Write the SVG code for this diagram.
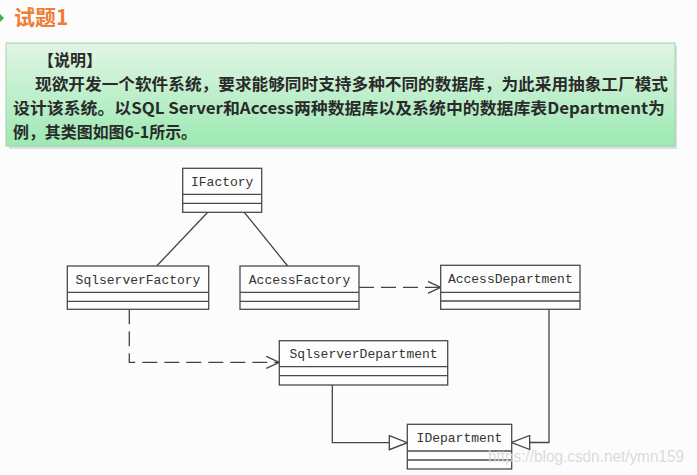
<svg xmlns="http://www.w3.org/2000/svg" width="697" height="475" viewBox="0 0 697 475">
<defs>
<style>
.box{fill:#fdfdfd;stroke:#4a4a4a;stroke-width:1.3}
.sep{stroke:#4a4a4a;stroke-width:1.3}
.lbl{font-family:"Liberation Mono","DejaVu Sans Mono",monospace;font-size:13px;fill:#333}
.con{fill:none;stroke:#444;stroke-width:1.3}
.dash{stroke-dasharray:15 7}
.hd{font-family:"Noto Sans CJK SC","Noto Sans",sans-serif;font-weight:bold;font-size:16px;fill:#2a2a2a}
</style>
<linearGradient id="g" x1="0" y1="0" x2="0" y2="1">
<stop offset="0" stop-color="#e2f5e5"/>
<stop offset="1" stop-color="#9ce9b3"/>
</linearGradient>
<marker id="open" viewBox="0 0 14 14" refX="13" refY="7" markerWidth="14" markerHeight="14" markerUnits="userSpaceOnUse" orient="auto">
<path d="M0,1 L13,7 L0,13" fill="none" stroke="#444" stroke-width="1.3"/>
</marker>
<marker id="tri" viewBox="0 0 20 16" refX="19" refY="8" markerWidth="20" markerHeight="16" markerUnits="userSpaceOnUse" orient="auto">
<path d="M1,1 L19,8 L1,15 Z" fill="#fdfdfd" stroke="#444" stroke-width="1.3"/>
</marker>
</defs>
<rect width="697" height="475" fill="#fdfcfd"/>
<path d="M0,14 L4,18 L0,22 Z" fill="#3cae5a"/>
<text x="14" y="25" font-family="Noto Sans CJK SC, sans-serif" font-weight="bold" font-size="21" fill="#ef7d34">试题1</text>
<rect x="9" y="46" width="668" height="103" fill="#9aa" opacity="0.35"/>
<rect x="6" y="43" width="669" height="103" fill="url(#g)" stroke="#9fd4ab" stroke-width="1"/>
<text class="hd" x="38" y="66">【说明】</text>
<text class="hd" x="35" y="90" textLength="633" lengthAdjust="spacingAndGlyphs">现欲开发一个软件系统，要求能够同时支持多种不同的数据库，为此采用抽象工厂模式</text>
<text class="hd" x="13" y="114" textLength="652" lengthAdjust="spacingAndGlyphs">设计该系统。以SQL Server和Access两种数据库以及系统中的数据库表Department为</text>
<text class="hd" x="13" y="138" textLength="184" lengthAdjust="spacingAndGlyphs">例，其类图如图6-1所示。</text>

<g id="connectors">
<path class="con" d="M207.7,212.3 L156.7,266"/>
<path class="con" d="M244.3,212.3 L287.7,266"/>
<path class="con dash" d="M359,287.3 L440.7,287.3" marker-end="url(#open)"/>
<path class="con dash" d="M129.3,309.3 L129.3,362.3 L279.3,362.3" marker-end="url(#open)"/>
<path class="con" d="M332.3,385 L332.3,442.7 L407.3,442.7" marker-end="url(#tri)"/>
<path class="con" d="M549,309.3 L549,442.5 L511.7,442.5" marker-end="url(#tri)"/>
</g>

<g id="IFactory">
<rect class="box" x="182.7" y="168.3" width="79" height="44"/>
<line class="sep" x1="182.7" y1="194.3" x2="261.7" y2="194.3"/>
<line class="sep" x1="182.7" y1="203.3" x2="261.7" y2="203.3"/>
<text class="lbl" x="222.2" y="186" text-anchor="middle">IFactory</text>
</g>
<g id="SqlserverFactory">
<rect class="box" x="67.3" y="266" width="141.4" height="43.3"/>
<line class="sep" x1="67.3" y1="292.3" x2="208.7" y2="292.3"/>
<line class="sep" x1="67.3" y1="301.3" x2="208.7" y2="301.3"/>
<text class="lbl" x="138" y="283.5" text-anchor="middle">SqlserverFactory</text>
</g>
<g id="AccessFactory">
<rect class="box" x="240" y="266" width="119" height="43.3"/>
<line class="sep" x1="240" y1="292.3" x2="359" y2="292.3"/>
<line class="sep" x1="240" y1="301.3" x2="359" y2="301.3"/>
<text class="lbl" x="299.5" y="283.5" text-anchor="middle">AccessFactory</text>
</g>
<g id="AccessDepartment">
<rect class="box" x="440.7" y="265.3" width="139.3" height="44"/>
<line class="sep" x1="440.7" y1="292.3" x2="580" y2="292.3"/>
<line class="sep" x1="440.7" y1="301" x2="580" y2="301"/>
<text class="lbl" x="510.3" y="283" text-anchor="middle">AccessDepartment</text>
</g>
<g id="SqlserverDepartment">
<rect class="box" x="279.3" y="340.7" width="168.4" height="44.3"/>
<line class="sep" x1="279.3" y1="366.7" x2="447.7" y2="366.7"/>
<line class="sep" x1="279.3" y1="375.7" x2="447.7" y2="375.7"/>
<text class="lbl" x="363.5" y="358" text-anchor="middle">SqlserverDepartment</text>
</g>
<g id="IDepartment">
<rect class="box" x="407.3" y="424.3" width="104.4" height="44.7"/>
<line class="sep" x1="407.3" y1="451" x2="511.7" y2="451"/>
<line class="sep" x1="407.3" y1="460" x2="511.7" y2="460"/>
<text class="lbl" x="459.5" y="441.5" text-anchor="middle">IDepartment</text>
</g>
<text x="488" y="462" font-family="Liberation Sans, Arial, sans-serif" font-size="16" fill="#d8d8d8" opacity="0.9" textLength="196" lengthAdjust="spacingAndGlyphs">https://blog.csdn.net/ymn159</text>
</svg>
